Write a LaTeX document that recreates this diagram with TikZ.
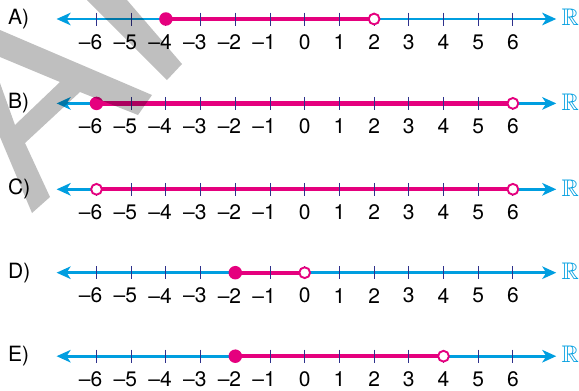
\documentclass[tikz,border=0pt]{standalone}
\usepackage{amssymb}
\usepackage{fontspec}
\setmainfont{TeX Gyre Heros}
\usetikzlibrary{arrows.meta}
\definecolor{achse}{RGB}{0,158,224}
\definecolor{menge}{RGB}{229,0,126}
\definecolor{strich}{RGB}{46,49,140}

\begin{document}
\begin{tikzpicture}[x=1pt, y=-1pt,
				spitze/.tip={Stealth[length=14pt, width=12.5pt, inset=4pt]},
				achsenlinie/.style={draw=achse, line width=2.6pt, spitze-spitze},
				mengenlinie/.style={draw=menge, line width=4.3pt},
				teilstrich/.style={draw=strich, line width=1pt},
				vollpunkt/.style={circle, fill=menge, minimum size=13.5pt, inner sep=0pt},
				leerpunkt/.style={circle, draw=menge, fill=white, line width=1.9pt, minimum size=10.8pt, inner sep=0pt},
				zahl/.style={inner sep=0pt, font=\fontsize{21}{24}\selectfont},
				buchst/.style={inner sep=0pt, anchor=west, font=\fontsize{21}{24}\selectfont},
				reell/.style={inner sep=0pt, anchor=west, text=achse, font=\fontsize{24}{28}\selectfont},
				wasserzeichen/.style={fill=black, fill opacity=0.25}]
				\useasboundingbox (0,0) rectangle (579,391);
				% Zahlengeraden: Buchstabe/Hoehe/linker Rand/rechter Rand/Punktart
				\foreach \lab/\y/\a/\b/\aart/\bart in {A/19/-4/2/vollpunkt/leerpunkt,
						B/103.4/-6/6/vollpunkt/leerpunkt, C/189.3/-6/6/leerpunkt/leerpunkt,
						D/272.7/-2/0/vollpunkt/leerpunkt, E/356.2/-2/4/vollpunkt/leerpunkt}{
					\begin{scope}[shift={(304.7,\y)}, x=34.7pt]
						% Achse mit Pfeilen
						\coordinate (l\lab) at (-7.15,0);
						\coordinate (r\lab) at (7.25,0);
						\draw[achsenlinie] (l\lab) -- (r\lab);
						\node[buchst] (lab\lab) at (-8.55,0) {\lab)};
						\node[reell] (R\lab) at (7.4,-1.5) {$\mathbb{R}$};
						% Intervall
						\coordinate (p\lab) at (\a,0);
						\coordinate (q\lab) at (\b,0);
						\draw[mengenlinie] (p\lab) -- (q\lab);
						% Teilstriche und Zahlen
						\foreach \x [count=\i] in {-6,...,6}{
							\draw[teilstrich] (\x,-6.5) -- (\x,6.5);
							\node[zahl] (n\lab\i) at (\x,23) {\ifnum\x<0 \llap{\textendash}\the\numexpr-\x\relax\else\x\fi};
						}
						% Randpunkte
						\node[\aart] (pp\lab) at (p\lab) {};
						\node[\bart] (qq\lab) at (q\lab) {};
					\end{scope}
				}
				% grauer Schriftzug oben links
				\fill[wasserzeichen] (0,30) -- (152,95) -- (138,115) -- (80,92) -- (25,143) -- (50,197)
					-- (32,213) -- (0,137) -- (0,83) -- (15,125) -- (60,82) -- (0,57) -- cycle;
				\fill[wasserzeichen] (87,0) -- (127,0) -- (182,64) -- (167,80) -- cycle;
			\end{tikzpicture}
\end{document}
